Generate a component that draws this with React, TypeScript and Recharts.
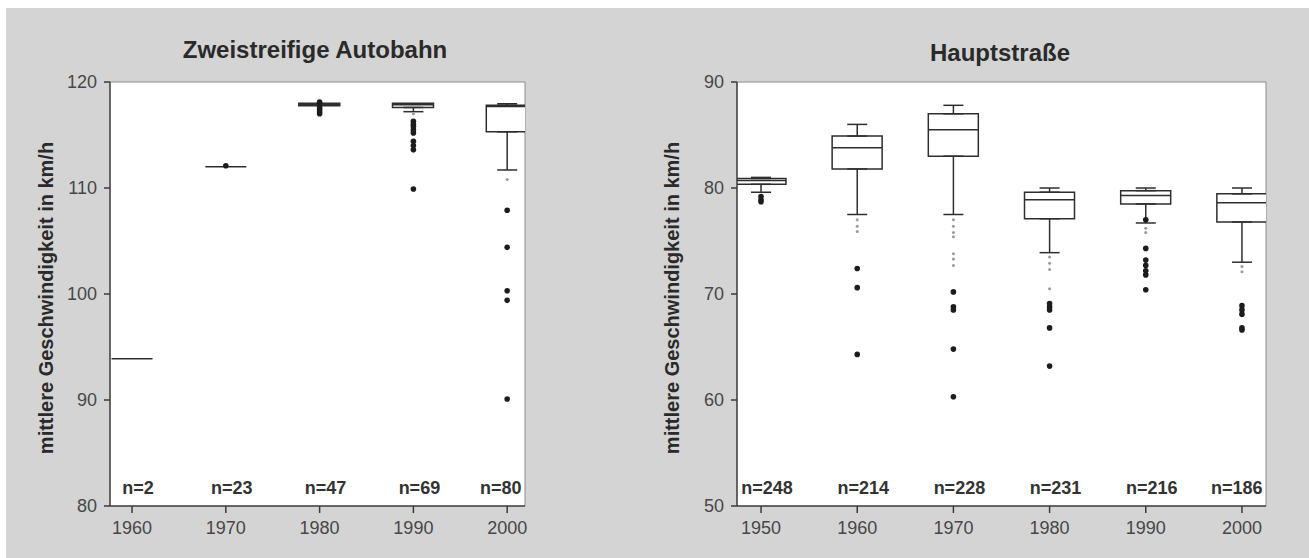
import React from 'react';
import { ComposedChart, XAxis, YAxis, Bar, Scatter, ErrorBar, CartesianGrid } from 'recharts';

const FONT = '"Liberation Sans", Arial, Helvetica, sans-serif';
const INK = '#2e2e2e';

// Zweistreifige Autobahn
const autobahnYears = [1960, 1970, 1980, 1990, 2000];
const autobahnN = [2, 23, 47, 69, 80];
const autobahnQ1 = [93.9, 112.0, 117.75, 117.6, 115.3];
const autobahnMedian = [93.9, 112.0, 117.85, 117.85, 117.7];
const autobahnQ3 = [93.9, 112.0, 118.0, 118.0, 117.8];
const autobahnLow = [93.9, 112.0, 117.75, 117.2, 111.7];
const autobahnHigh = [93.9, 112.0, 118.0, 118.0, 117.95];
const autobahnOutliers = [
  [],
  [112.1],
  [118.1, 117.6, 117.4, 117.2, 117.0],
  [116.3, 116.0, 115.8, 115.5, 115.2, 114.4, 114.0, 113.6, 109.9],
  [107.9, 104.4, 100.3, 99.4, 90.1],
];
const autobahnFaint = [[], [], [], [117.0], [110.8]];
const autobahnTicks = [80, 90, 100, 110, 120];

// Hauptstraße
const hauptYears = [1950, 1960, 1970, 1980, 1990, 2000];
const hauptN = [248, 214, 228, 231, 216, 186];
const hauptQ1 = [80.35, 81.8, 83.0, 77.1, 78.5, 76.8];
const hauptMedian = [80.7, 83.8, 85.5, 78.9, 79.3, 78.6];
const hauptQ3 = [80.9, 84.9, 87.0, 79.6, 79.75, 79.45];
const hauptLow = [79.6, 77.5, 77.5, 73.9, 76.7, 73.0];
const hauptHigh = [81.0, 86.0, 87.8, 80.0, 80.0, 80.0];
const hauptOutliers = [
  [79.2, 78.9, 78.7],
  [72.4, 70.6, 64.3],
  [70.2, 68.8, 68.5, 64.8, 60.3],
  [69.1, 68.8, 68.5, 66.8, 63.2],
  [77.0, 74.3, 73.2, 72.7, 72.2, 71.8, 70.4],
  [68.9, 68.5, 68.1, 66.8, 66.6],
];
const hauptFaint = [
  [],
  [77.0, 76.4, 75.9],
  [77.0, 76.4, 75.8, 75.4, 73.8, 73.3, 72.7],
  [73.5, 72.9, 72.3, 70.5],
  [76.2, 75.8],
  [72.6, 72.1],
];
const hauptTicks = [50, 60, 70, 80, 90];

type PanelProps = {
  title: string;
  years: number[];
  counts: number[];
  q1: number[];
  median: number[];
  q3: number[];
  low: number[];
  high: number[];
  outliers: number[][];
  faint: number[][];
  yTicks: number[];
  xDomain: [number, number];
  left: number;
  width: number;
  marginLeft: number;
  marginRight: number;
  boxWidth: number;
  titleX: number;
  titleTop: number;
  labelX: number;
};

const HEIGHT = 558;
const TOP = 82;
const AXIS_W = 60;
const AXIS_H = 40;
const BOTTOM = 12;

function BoxPanel(p: PanelProps) {
  const yDomain: [number, number] = [p.yTicks[0], p.yTicks[p.yTicks.length - 1]];
  const plotRight = p.width - p.marginRight;

  const boxRows = p.years.map((x, i) => ({ x, box: [p.q1[i], p.q3[i]] }));
  const medianRows = p.years.map((x, i) => ({ x, y: p.median[i] }));
  const upperRows = p.years
    .map((x, i) => ({ x, y: p.q3[i], err: [0, p.high[i] - p.q3[i]] }))
    .filter((r) => r.err[1] > 0);
  const lowerRows = p.years
    .map((x, i) => ({ x, y: p.q1[i], err: [p.q1[i] - p.low[i], 0] }))
    .filter((r) => r.err[0] > 0);
  const outlierRows = p.years.flatMap((x, i) => p.outliers[i].map((y) => ({ x, y })));
  const faintRows = p.years.flatMap((x, i) => p.faint[i].map((y) => ({ x, y })));
  const nRows = p.years.map((x, i) => ({
    x,
    y: yDomain[0] + (yDomain[1] - yDomain[0]) * 0.043,
    n: p.counts[i],
  }));

  const half = p.boxWidth / 2;

  return (
    <div style={{ position: 'absolute', left: p.left, top: 0, width: p.width, height: HEIGHT }}>
      <ComposedChart
        width={p.width}
        height={HEIGHT}
        data={boxRows}
        margin={{ top: TOP, right: p.marginRight, left: p.marginLeft, bottom: BOTTOM }}
      >
        <CartesianGrid
          fill="#fff"
          stroke="#8c8c8c"
          strokeWidth={1}
          horizontalValues={[yDomain[1]]}
          verticalValues={[p.xDomain[1]]}
        />
        <XAxis
          type="number"
          dataKey="x"
          domain={p.xDomain}
          ticks={p.years}
          allowDataOverflow
          interval={0}
          height={AXIS_H}
          tickSize={7}
          tickMargin={8}
          stroke="#3a3a3a"
          strokeWidth={1.5}
          tick={{ fill: '#474747', fontSize: 18, fontFamily: FONT }}
        />
        <YAxis
          type="number"
          dataKey="y"
          domain={yDomain}
          ticks={p.yTicks}
          allowDataOverflow
          interval={0}
          width={AXIS_W}
          tickSize={6}
          tickMargin={7}
          stroke="#3a3a3a"
          strokeWidth={1.5}
          tick={{ fill: '#474747', fontSize: 18, fontFamily: FONT }}
        />
        <Bar dataKey="box" barSize={p.boxWidth} fill="#fff" stroke={INK} strokeWidth={1.5} isAnimationActive={false} />
        <Scatter data={upperRows} shape={() => <g />} isAnimationActive={false}>
          <ErrorBar dataKey="err" direction="y" width={10} stroke={INK} strokeWidth={1.5} />
        </Scatter>
        <Scatter data={lowerRows} shape={() => <g />} isAnimationActive={false}>
          <ErrorBar dataKey="err" direction="y" width={10} stroke={INK} strokeWidth={1.5} />
        </Scatter>
        <Scatter
          data={medianRows}
          isAnimationActive={false}
          shape={(s: any) => (
            <line x1={s.cx - half} x2={s.cx + half} y1={s.cy} y2={s.cy} stroke={INK} strokeWidth={1.5} />
          )}
        />
        <Scatter
          data={faintRows}
          isAnimationActive={false}
          shape={(s: any) => <circle cx={s.cx} cy={s.cy} r={1.5} fill="#9a9a9a" />}
        />
        <Scatter
          data={outlierRows}
          isAnimationActive={false}
          shape={(s: any) => <circle cx={s.cx} cy={s.cy} r={2.8} fill="#1c1c1c" />}
        />
        <Scatter
          data={nRows}
          isAnimationActive={false}
          shape={(s: any) => {
            const label = `n=${s.payload.n}`;
            const w = label.length * 18 * 0.56;
            let cx = s.cx + 6;
            if (cx + w / 2 > plotRight - 4) cx = plotRight - 4 - w / 2;
            return (
              <text
                x={cx}
                y={s.cy}
                textAnchor="middle"
                dominantBaseline="central"
                fontFamily={FONT}
                fontWeight="bold"
                fontSize={18}
                fill="#333"
              >
                {label}
              </text>
            );
          }}
        />
      </ComposedChart>
      <div
        style={{
          position: 'absolute',
          left: p.titleX,
          top: p.titleTop,
          transform: 'translateX(-50%)',
          whiteSpace: 'nowrap',
          fontFamily: FONT,
          fontWeight: 'bold',
          fontSize: 24,
          lineHeight: 1,
          color: '#2a2a2a',
        }}
      >
        {p.title}
      </div>
      <div
        style={{
          position: 'absolute',
          left: p.labelX,
          top: 298,
          transform: 'translate(-50%, -50%) rotate(-90deg)',
          whiteSpace: 'nowrap',
          fontFamily: FONT,
          fontWeight: 'bold',
          fontSize: 20,
          lineHeight: 1,
          color: '#2a2a2a',
        }}
      >
        mittlere Geschwindigkeit in km/h
      </div>
    </div>
  );
}

export default function App() {
  return (
    <div style={{ position: 'absolute', left: 0, top: 0, width: 1309, height: 558, background: '#fff', overflow: 'hidden' }}>
      <div style={{ position: 'absolute', left: 6, top: 8, width: 1303, height: 550, background: '#d4d4d4' }} />
      <BoxPanel
        title="Zweistreifige Autobahn"
        years={autobahnYears}
        counts={autobahnN}
        q1={autobahnQ1}
        median={autobahnMedian}
        q3={autobahnQ3}
        low={autobahnLow}
        high={autobahnHigh}
        outliers={autobahnOutliers}
        faint={autobahnFaint}
        yTicks={autobahnTicks}
        xDomain={[1957.65, 2001.9]}
        left={0}
        width={560}
        marginLeft={110 - AXIS_W}
        marginRight={35}
        boxWidth={41}
        titleX={315}
        titleTop={38}
        labelX={46}
      />
      <BoxPanel
        title="Hauptstraße"
        years={hauptYears}
        counts={hauptN}
        q1={hauptQ1}
        median={hauptMedian}
        q3={hauptQ3}
        low={hauptLow}
        high={hauptHigh}
        outliers={hauptOutliers}
        faint={hauptFaint}
        yTicks={hauptTicks}
        xDomain={[1947.5, 2002.5]}
        left={640}
        width={669}
        marginLeft={97 - AXIS_W}
        marginRight={43}
        boxWidth={50}
        titleX={1000 - 640}
        titleTop={41}
        labelX={672 - 640}
      />
    </div>
  );
}
